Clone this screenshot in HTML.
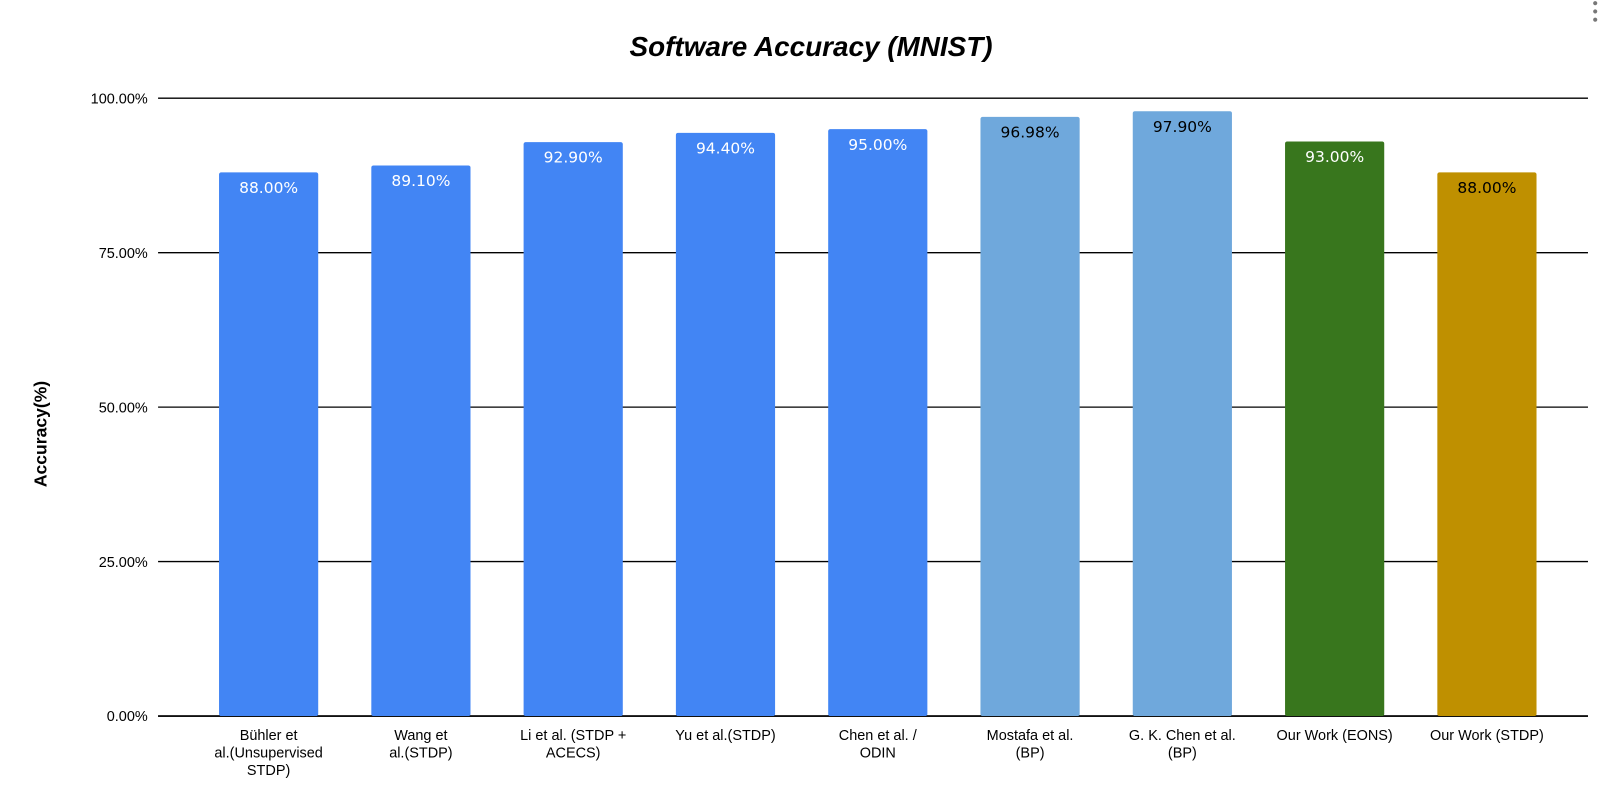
<!DOCTYPE html>
<html><head><meta charset="utf-8"><style>
body{margin:0;background:#fff;width:1620px;height:806px;overflow:hidden;font-family:"Liberation Sans",sans-serif}
</style></head><body>
<svg id="chart" width="1620" height="806" viewBox="0 0 1568 780">
<text x="785" y="54" text-anchor="middle" font-size="27" font-weight="bold" font-style="italic">Software Accuracy (MNIST)</text>
<text transform="translate(45,420) rotate(-90)" text-anchor="middle" font-size="17" font-weight="bold">Accuracy(%)</text>
<g fill="#777"><circle cx="1544" cy="3" r="2"/><circle cx="1544" cy="11" r="2"/><circle cx="1544" cy="19" r="2"/></g>
<g id="grid"></g><g id="bars"></g><g id="xl"></g>
</svg>
<script>
const categories=[["Bühler et","al.(Unsupervised","STDP)"],["Wang et","al.(STDP)"],["Li et al. (STDP +","ACECS)"],["Yu et al.(STDP)"],["Chen et al. /","ODIN"],["Mostafa et al.","(BP)"],["G. K. Chen et al.","(BP)"],["Our Work (EONS)"],["Our Work (STDP)"]];
const values=[88.00,89.10,92.90,94.40,95.00,96.98,97.90,93.00,88.00];
const colors=["#4285f4","#4285f4","#4285f4","#4285f4","#4285f4","#6fa8dc","#6fa8dc","#38761d","#bf9000"];
const labelColors=["#fff","#fff","#fff","#fff","#fff","#000","#000","#fff","#000"];
const ticks=[0,25,50,75,100];
const NS="http://www.w3.org/2000/svg";
const y=v=>693-v*5.98;
const x=i=>260+i*147.4;
function mk(t,a,p){const e=document.createElementNS(NS,t);for(const k in a)e.setAttribute(k,a[k]);p.appendChild(e);return e;}
const g=document.getElementById('grid'),b=document.getElementById('bars'),xl=document.getElementById('xl');
ticks.forEach(t=>{
 const l=mk('line',{x1:153,x2:1537,y1:y(t),y2:y(t),stroke:'#000','stroke-width':1.3},g);
 
 
 const tx=mk('text',{x:143,y:y(t)+5,'text-anchor':'end','font-size':14},g);
 tx.textContent=t.toFixed(2)+'%';
 
 
});
values.forEach((v,i)=>{
 const r=mk('rect',{x:x(i)-48,y:y(v),width:96,height:693-y(v),fill:colors[i],rx:2},b);
 
 
 const t=mk('text',{x:x(i),y:y(v)+20,'text-anchor':'middle','font-size':15,fill:labelColors[i],'font-family':'"DejaVu Sans",sans-serif'},b);
 t.textContent=v.toFixed(2)+'%';
 
 
 categories[i].forEach((s,j)=>{
  const c=mk('text',{x:x(i),y:716+j*17,'text-anchor':'middle','font-size':14},xl);
  c.textContent=s;
  
  
 });
});
mk('line',{x1:153,x2:1537,y1:693,y2:693,stroke:'#000','stroke-width':1.5},g);
</script>
</body></html>
